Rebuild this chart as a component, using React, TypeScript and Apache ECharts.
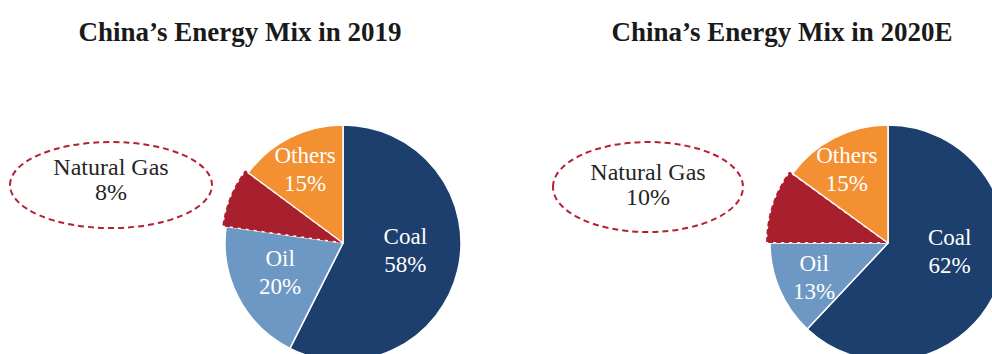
import React, { useEffect, useRef } from "react";
import * as echarts from "echarts";

const categories = ["Coal", "Oil", "Natural Gas", "Others"];
const values2019 = [58, 20, 8, 15];
const values2020 = [62, 13, 10, 15];
const titles = ["China\u2019s Energy Mix in 2019", "China\u2019s Energy Mix in 2020E"];
const colors = ["#1c3f6e", "#6e98c4", "#a8202d", "#f39032"];

const FONT = "'Liberation Serif', 'Times New Roman', serif";

export default function App() {
  const ref = useRef<HTMLDivElement>(null);
  useEffect(() => {
    if (!ref.current) return;
    const chart = echarts.init(ref.current, null, { renderer: "svg" });

    const pies = [
      { values: values2019, center: [343, 243], offsets: [[2, -7], [-8, 1], [0, 0], [-10, -18]] },
      { values: values2020, center: [888, 243], offsets: [[4, -14], [-17, 10], [0, 0], [-13, -18]] },
    ];
    const callouts = [
      { cx: 111, cy: 185, rx: 101, ry: 43, tx: 111, ty: 179, values: values2019 },
      { cx: 648, cy: 187, rx: 95, ry: 45, tx: 648, ty: 184, values: values2020 },
    ];

    const series = pies.map((p) => ({
      type: "pie",
      center: p.center,
      radius: 118,
      startAngle: 90,
      clockwise: true,
      selectedMode: "single",
      selectedOffset: 3,
      avoidLabelOverlap: false,
      emphasis: { disabled: true },
      labelLine: { show: false },
      data: categories.map((c, i) => {
        const isGas = c === "Natural Gas";
        return {
          name: c,
          value: p.values[i],
          selected: isGas,
          itemStyle: isGas
            ? { color: colors[i], borderColor: "#b01e2e", borderWidth: 2, borderType: [5, 3] }
            : { color: colors[i], borderColor: "#ffffff", borderWidth: 1.5 },
          label: isGas
            ? { show: false }
            : {
                show: true,
                position: "inside",
                formatter: "{b}\n{c}%",
                color: "#ffffff",
                fontFamily: FONT,
                fontSize: 23,
                lineHeight: 28,
                offset: p.offsets[i],
              },
        };
      }),
    }));

    const gasIdx = categories.indexOf("Natural Gas");
    const graphic: any[] = [];
    callouts.forEach((c) => {
      graphic.push({
        type: "ellipse",
        shape: { cx: c.cx, cy: c.cy, rx: c.rx, ry: c.ry },
        style: { fill: "none", stroke: "#b22234", lineWidth: 2, lineDash: [6, 4] },
        z: 10,
      });
      graphic.push({
        type: "text",
        x: c.tx,
        y: c.ty,
        style: {
          text: `${categories[gasIdx]}\n${c.values[gasIdx]}%`,
          fill: "#262626",
          font: `24px ${FONT}`,
          lineHeight: 25,
          align: "center",
          verticalAlign: "middle",
        },
        z: 10,
      });
    });

    const titleStyle = { fontFamily: FONT, fontWeight: "bold", fontSize: 27, color: "#1a1a1a" };
    chart.setOption({
      animation: false,
      title: [
        { text: titles[0], left: 235, top: 13, textAlign: "center", textStyle: titleStyle },
        { text: titles[1], left: 777, top: 13, textAlign: "center", textStyle: titleStyle },
      ],
      series,
      graphic,
    });
    return () => chart.dispose();
  }, []);
  return (
    <div
      ref={ref}
      style={{ position: "fixed", left: 0, top: 0, width: 992, height: 354, background: "#ffffff" }}
    />
  );
}
